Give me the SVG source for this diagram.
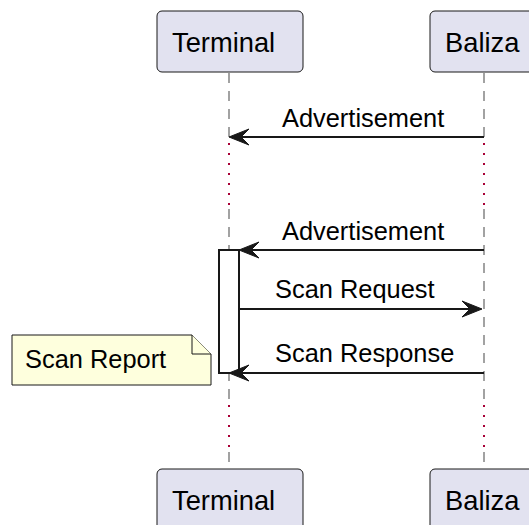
<svg xmlns="http://www.w3.org/2000/svg" width="529" height="525" viewBox="0 0 529 525">
  <defs>
    <style>
      .participant rect { fill: #E2E2F0; stroke: #181818; stroke-width: 1; }
      .participant text { font-family: "Liberation Sans", Arial, sans-serif; font-size: 27.3px; fill: #000000; }
      .life { stroke: #181818; stroke-width: 1; stroke-dasharray: 10 8; fill: none; opacity: 0.8; }
      .delay { stroke: #A80036; stroke-width: 2; stroke-dasharray: 2 8; fill: none; }
      .msg { stroke: #181818; stroke-width: 2; fill: none; }
      .head { fill: #181818; stroke: #181818; stroke-width: 1; }
      .label { font-family: "Liberation Sans", Arial, sans-serif; font-size: 25.4px; fill: #000000; }
      .activation { fill: #FFFFFF; stroke: #181818; stroke-width: 2; }
      .note { fill: #FEFFDD; stroke: #181818; stroke-width: 1; }
    </style>
  </defs>
  <rect width="529" height="525" fill="#FFFFFF"/>

  <!-- lifelines with delay sections -->
  <g id="lifelines">
    <line class="life" x1="229" y1="73" x2="229" y2="140"/>
    <line class="delay" x1="229" y1="143" x2="229" y2="206"/>
    <line class="life" x1="229" y1="209" x2="229" y2="400"/>
    <line class="delay" x1="229" y1="405" x2="229" y2="448"/>
    <line class="life" x1="229" y1="452" x2="229" y2="468"/>

    <line class="life" x1="484" y1="73" x2="484" y2="140"/>
    <line class="delay" x1="484" y1="143" x2="484" y2="206"/>
    <line class="life" x1="484" y1="209" x2="484" y2="400"/>
    <line class="delay" x1="484" y1="405" x2="484" y2="448"/>
    <line class="life" x1="484" y1="452" x2="484" y2="468"/>
  </g>

  <g id="terminal-top" class="participant">
    <rect x="157" y="11" width="146" height="61" rx="5" ry="5"/>
    <text x="172" y="52">Terminal</text>
  </g>
  <g id="baliza-top" class="participant">
    <rect x="430" y="11" width="108" height="61" rx="5" ry="5"/>
    <text x="445" y="52">Baliza</text>
  </g>

  <g id="terminal-activation">
    <rect class="activation" x="219" y="250" width="20" height="123"/>
  </g>

  <g id="note-scan-report">
    <path class="note" d="M12,335 L192,335 L211,354 L211,385 L12,385 Z"/>
    <path class="note" d="M192,335 L192,354 L211,354" fill="none"/>
    <text class="label" x="25" y="368">Scan Report</text>
  </g>

  <g id="connectors">
    <!-- Advertisement -->
    <line class="msg" x1="484" y1="137" x2="233" y2="137"/>
    <polygon class="head" points="249,129 229,137 249,145 241,137"/>
    <text class="label" x="282" y="127">Advertisement</text>

    <!-- Advertisement -->
    <line class="msg" x1="484" y1="250" x2="243" y2="250"/>
    <polygon class="head" points="259,242 239,250 259,258 251,250"/>
    <text class="label" x="282" y="240">Advertisement</text>

    <!-- Scan Request -->
    <line class="msg" x1="239" y1="309" x2="479" y2="309"/>
    <polygon class="head" points="462,301 482,309 462,317 470,309"/>
    <text class="label" x="275" y="298">Scan Request</text>

    <!-- Scan Response -->
    <line class="msg" x1="484" y1="373" x2="233" y2="373"/>
    <polygon class="head" points="249,365 229,373 249,381 241,373"/>
    <text class="label" x="275" y="362">Scan Response</text>
  </g>

  <g id="terminal-bottom" class="participant">
    <rect x="157" y="469" width="146" height="61" rx="5" ry="5"/>
    <text x="172" y="510">Terminal</text>
  </g>
  <g id="baliza-bottom" class="participant">
    <rect x="430" y="469" width="108" height="61" rx="5" ry="5"/>
    <text x="445" y="510">Baliza</text>
  </g>
</svg>
